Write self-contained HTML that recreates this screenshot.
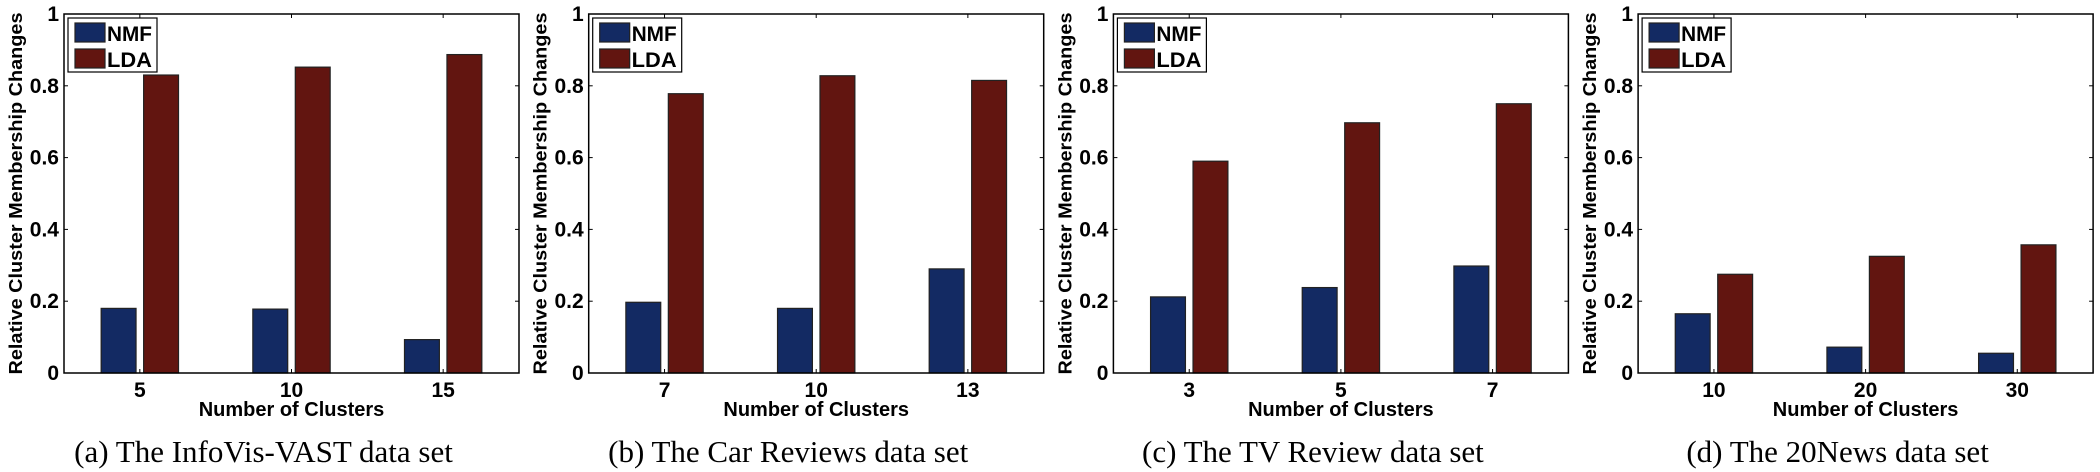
<!DOCTYPE html>
<html><head><meta charset="utf-8">
<style>
html,body{margin:0;padding:0;background:#fff;}
svg{display:block;}
.tk{font-family:"Liberation Sans",sans-serif;font-weight:bold;font-size:21px;fill:#000;}
.ttl{font-family:"Liberation Sans",sans-serif;font-weight:bold;font-size:18px;fill:#000;}
.xt{font-family:"Liberation Sans",sans-serif;font-weight:bold;font-size:20px;fill:#000;}
.lg{font-family:"Liberation Sans",sans-serif;font-weight:bold;font-size:21px;fill:#000;}
.cap{font-family:"Liberation Serif",serif;font-size:31px;fill:#000;}
</style></head>
<body>
<svg id="chart" width="2100" height="472" viewBox="0 0 2100 472" xmlns="http://www.w3.org/2000/svg"></svg>
<script>
const panelCaptions = ["(a) The InfoVis-VAST data set","(b) The Car Reviews data set","(c) The TV Review data set","(d) The 20News data set"];
const panelCategories = [["5","10","15"],["7","10","13"],["3","5","7"],["10","20","30"]];
const nmfValues = [[0.180,0.178,0.093],[0.197,0.180,0.290],[0.212,0.238,0.298],[0.165,0.072,0.055]];
const ldaValues = [[0.830,0.852,0.887],[0.778,0.828,0.815],[0.590,0.697,0.750],[0.275,0.325,0.357]];
const yTicks = [0,0.2,0.4,0.6,0.8,1];
const yTickLabels = ["0","0.2","0.4","0.6","0.8","1"];
const seriesNames = ["NMF","LDA"];

const NS="http://www.w3.org/2000/svg";
const svg=document.getElementById('chart');
function mk(tag,attrs,parent){const e=document.createElementNS(NS,tag);for(const k in attrs)e.setAttribute(k,attrs[k]);(parent||svg).appendChild(e);return e;}
const colors=["#132a63","#621510"];
const PW=455, TOP=14, BOT=373;
for(let p=0;p<4;p++){
  const L=64+p*524.7, R=L+PW;
  const g=mk('g',{});
  
  
  const cats=panelCategories[p];
  const n=cats.length;
  const unit=PW/n;
  const xs=i=>L+unit*(i+0.5);
  const ys=v=>BOT-(BOT-TOP)*v;
  const bw=unit*0.23, off=unit*0.14;
  [nmfValues[p],ldaValues[p]].forEach((vals,s)=>{
    vals.forEach((v,i)=>{
      const cx=xs(i)+(s===0?-off:off);
      const r=mk('rect',{x:cx-bw/2,y:ys(v),width:bw,height:BOT-ys(v),fill:colors[s],stroke:"#222","stroke-width":1.2},g);
      
      
    });
  });
  const fr=mk('rect',{x:L,y:TOP,width:PW,height:BOT-TOP,fill:"none",stroke:"#000","stroke-width":1.5},g);
  
  
  yTicks.forEach((t,k)=>{
    const y=ys(t);
    mk('line',{x1:L,x2:L+4,y1:y,y2:y,stroke:"#000","stroke-width":1},g);
    mk('line',{x1:R-4,x2:R,y1:y,y2:y,stroke:"#000","stroke-width":1},g);
    const tx=mk('text',{x:L-5,y:y+7,"text-anchor":"end",class:"tk"},g);
    tx.textContent=yTickLabels[k];
    
    
  });
  cats.forEach((c,i)=>{
    const x=xs(i);
    mk('line',{x1:x,x2:x,y1:BOT,y2:BOT-4,stroke:"#000","stroke-width":1},g);
    mk('line',{x1:x,x2:x,y1:TOP,y2:TOP+4,stroke:"#000","stroke-width":1},g);
    const tx=mk('text',{x:x,y:397,"text-anchor":"middle",class:"tk"},g);
    tx.textContent=c;
    
    
  });
  const xt=mk('text',{x:L+PW/2,y:416,"text-anchor":"middle",class:"xt"},g);
  xt.textContent="Number of Clusters";
  
  
  const yt=mk('text',{x:0,y:0,"text-anchor":"middle",class:"ttl",textLength:362,lengthAdjust:"spacingAndGlyphs",transform:"translate("+(L-42)+","+((TOP+BOT)/2)+") rotate(-90)"},g);
  yt.textContent="Relative Cluster Membership Changes";
  
  
  const lg=mk('g',{},g);
  
  
  mk('rect',{x:L+4,y:18,width:89,height:54,fill:"#fff",stroke:"#000","stroke-width":1.2},lg);
  seriesNames.forEach((nm,s)=>{
    const sw=mk('rect',{x:L+11,y:23+s*26,width:30,height:19,fill:colors[s],stroke:"#222","stroke-width":1.2},lg);
    
    
    const t=mk('text',{x:L+43,y:41+s*26,class:"lg",textLength:45,lengthAdjust:"spacingAndGlyphs"},lg);
    t.textContent=nm;
    
    
  });
  const cp=mk('text',{x:L+PW/2-28,y:462,"text-anchor":"middle",class:"cap"},g);
  cp.textContent=panelCaptions[p];
  
  
}
</script>
</body></html>
